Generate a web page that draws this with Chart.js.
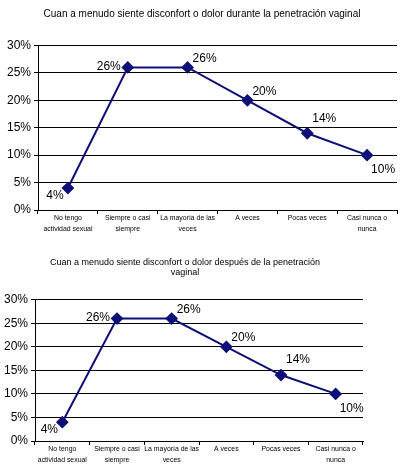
<!DOCTYPE html>
<html lang="es">
<head>
  <meta charset="UTF-8">
  <title>Disconfort o dolor en la penetración vaginal</title>
  <script src="https://cdn.jsdelivr.net/npm/chart.js@4.4.1/dist/chart.umd.min.js"></script>
  <style>
    body {
      margin: 0;
      background: #fff;
      font-family: Arial, "Liberation Sans", sans-serif;
    }
    #page {
      position: relative;
      width: 412px;
      height: 466px;
      overflow: hidden;
    }
    .box {
      position: absolute;
      left: 0;
    }
    #box1 { top: 0; width: 404px; height: 235px; }
    #box2 { top: 235px; width: 370px; height: 231px; }
  </style>
</head>
<body>
<div id="page">
  <div class="box" id="box1"><canvas id="chart1"></canvas></div>
  <div class="box" id="box2"><canvas id="chart2"></canvas></div>
</div>
<script>
  // categories (same in both charts)
  const categories = [
    ['No tengo', 'actividad sexual'],
    ['Siempre o casi', 'siempre'],
    ['La mayoría de las', 'veces'],
    ['A veces'],
    ['Pocas veces'],
    ['Casi nunca o', 'nunca']
  ];

  // percentages
  const duringValues = [4, 26, 26, 20, 14, 10];
  const afterValues = [4, 26, 26, 20, 14, 10];

  const yTicks = [0, 5, 10, 15, 20, 25, 30];

  const title1 = 'Cuan a menudo siente disconfort o dolor durante la penetración vaginal';
  const title2 = ['Cuan a menudo siente disconfort o dolor después de la penetración', 'vaginal'];

  // where each value label sits around its point
  const labelSide = ['below-left', 'left', 'above-right', 'above-right', 'above-right', 'below-right'];

  const navy = '#0f0f78';
  const arial = 'Arial, "Liberation Sans", sans-serif';

  // draws "26%" etc next to the points
  const pointLabels = {
    id: 'pointLabels',
    afterDatasetsDraw(chart) {
      const ctx = chart.ctx;
      const meta = chart.getDatasetMeta(0);
      const vals = chart.data.datasets[0].data;
      ctx.save();
      ctx.font = '12px ' + arial;
      ctx.fillStyle = '#000';
      ctx.textBaseline = 'middle';
      ctx.textAlign = 'center';
      meta.data.forEach(function(pt, i) {
        let dx = 0, dy = 0;
        switch (labelSide[i]) {
          case 'below-left': dx = -13; dy = 8; break;
          case 'left': dx = -19; dy = -1; break;
          case 'above-right': dx = 17; dy = i == 4 ? -15 : -9; break;
          case 'below-right': dx = 16; dy = 15; break;
        }
        ctx.fillText(vals[i] + '%', pt.x + dx, pt.y + dy);
      });
      ctx.restore();
    }
  };

  function makeChart(id, values, title, titleSize, titlePad, yWidth, xHeight) {
    const ctx = document.getElementById(id).getContext('2d');
    return new Chart(ctx, {
      type: 'line',
      data: {
        labels: categories,
        datasets: [{
          data: values,
          borderColor: navy,
          backgroundColor: navy,
          borderWidth: 2,
          pointStyle: 'rectRot',
          pointRadius: 5,
          pointHoverRadius: 5,
          tension: 0
        }]
      },
      options: {
        responsive: true,
        maintainAspectRatio: false,
        animation: false,
        layout: { padding: 0 },
        plugins: {
          legend: { display: false },
          tooltip: { enabled: false },
          title: {
            display: true,
            text: title,
            color: '#000',
            font: { family: arial, size: titleSize, weight: 'normal', lineHeight: 1.15 },
            padding: titlePad
          }
        },
        scales: {
          x: {
            offset: true,
            grid: {
              offset: true,
              drawOnChartArea: false,
              color: '#000',
              tickLength: 4
            },
            border: { color: '#000', width: 1 },
            ticks: {
              autoSkip: false,
              maxRotation: 0,
              padding: -2,
              color: '#000',
              font: { family: arial, size: 6.9, lineHeight: 1.65 }
            },
            afterFit(scale) { scale.height = xHeight; }
          },
          y: {
            min: 0,
            max: 30,
            afterBuildTicks(scale) { scale.ticks = yTicks.map(v => ({ value: v })); },
            grid: { color: '#000', tickLength: 4 },
            border: { color: '#000', width: 1 },
            ticks: {
              padding: 3,
              color: '#000',
              font: { family: arial, size: 12 },
              callback: v => v + '%'
            },
            afterFit(scale) { scale.width = yWidth; }
          }
        }
      },
      plugins: [pointLabels]
    });
  }

  makeChart('chart1', duringValues, title1, 10, { top: 8, bottom: 26 }, 38, 25);
  makeChart('chart2', afterValues, title2, 9, { top: 22, bottom: 22 }, 35, 25);
</script>
</body>
</html>
